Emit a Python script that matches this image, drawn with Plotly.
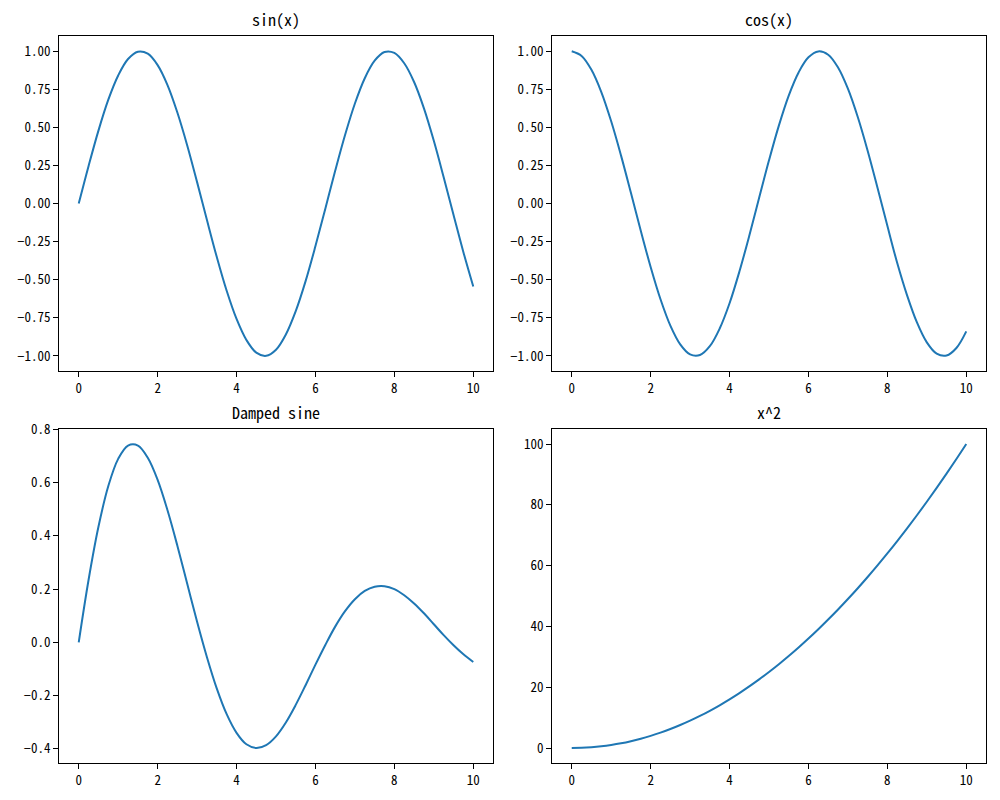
import plotly.graph_objects as go

x = [0.0, 0.25, 0.5, 0.75, 1.0, 1.25, 1.5, 1.75, 2.0, 2.25, 2.5, 2.75, 3.0, 3.25, 3.5, 3.75,
     4.0, 4.25, 4.5, 4.75, 5.0, 5.25, 5.5, 5.75, 6.0, 6.25, 6.5, 6.75, 7.0, 7.25, 7.5, 7.75,
     8.0, 8.25, 8.5, 8.75, 9.0, 9.25, 9.5, 9.75, 10.0]

sin_vals = [0.000, 0.247, 0.479, 0.682, 0.841, 0.949, 0.997, 0.984, 0.909, 0.778, 0.598, 0.382,
            0.141, -0.108, -0.351, -0.572, -0.757, -0.895, -0.978, -0.999, -0.959, -0.859,
            -0.706, -0.509, -0.279, -0.033, 0.215, 0.450, 0.657, 0.823, 0.938, 0.995, 0.989,
            0.921, 0.798, 0.625, 0.412, 0.173, -0.075, -0.319, -0.544]

cos_vals = [1.000, 0.969, 0.878, 0.732, 0.540, 0.315, 0.071, -0.178, -0.416, -0.628, -0.801,
            -0.924, -0.990, -0.994, -0.936, -0.820, -0.654, -0.446, -0.211, 0.038, 0.284, 0.512,
            0.709, 0.861, 0.960, 0.999, 0.977, 0.893, 0.754, 0.568, 0.347, 0.104, -0.146,
            -0.390, -0.602, -0.780, -0.911, -0.985, -0.997, -0.948, -0.839]

damped_vals = [0.000, 0.235, 0.434, 0.587, 0.689, 0.739, 0.739, 0.693, 0.610, 0.496, 0.363,
               0.220, 0.077, -0.056, -0.174, -0.270, -0.340, -0.383, -0.397, -0.386, -0.353,
               -0.301, -0.235, -0.161, -0.084, -0.010, 0.059, 0.117, 0.162, 0.193, 0.209, 0.211,
               0.200, 0.177, 0.146, 0.109, 0.068, 0.027, -0.011, -0.045, -0.074]

square_vals = [0.00, 0.06, 0.25, 0.56, 1.00, 1.56, 2.25, 3.06, 4.00, 5.06, 6.25, 7.56, 9.00,
               10.56, 12.25, 14.06, 16.00, 18.06, 20.25, 22.56, 25.00, 27.56, 30.25, 33.06,
               36.00, 39.06, 42.25, 45.56, 49.00, 52.56, 56.25, 60.06, 64.00, 68.06, 72.25,
               76.56, 81.00, 85.56, 90.25, 95.06, 100.00]

titles = ["sin(x)", "cos(x)", "Damped sine", "x^2"]
series = [sin_vals, cos_vals, damped_vals, square_vals]
x_ticks = [0, 2, 4, 6, 8, 10]

FONT = "Noto Sans Mono CJK SC, Noto Sans CJK SC, DejaVu Sans Mono, monospace"
COLOR = "#1f77b4"

xdoms = [[0.059, 0.493], [0.552, 0.986], [0.059, 0.493], [0.552, 0.986]]
ydoms = [[0.536, 0.955], [0.536, 0.955], [0.046, 0.464], [0.046, 0.464]]
yranges = [[-1.1, 1.1], [-1.1, 1.1], [-0.454, 0.802], [-5, 105]]
ytickvals = [
    [-1.0, -0.75, -0.5, -0.25, 0.0, 0.25, 0.5, 0.75, 1.0],
    [-1.0, -0.75, -0.5, -0.25, 0.0, 0.25, 0.5, 0.75, 1.0],
    [-0.4, -0.2, 0.0, 0.2, 0.4, 0.6, 0.8],
    [0, 20, 40, 60, 80, 100],
]
yformats = [".2f", ".2f", ".1f", "d"]

fig = go.Figure()
layout = dict(
    width=1000, height=800,
    margin=dict(l=0, r=0, t=0, b=0),
    paper_bgcolor="white", plot_bgcolor="white",
    showlegend=False,
    font=dict(family=FONT, size=13, color="black"),
    annotations=[],
)

for i in range(4):
    n = "" if i == 0 else str(i + 1)
    fig.add_trace(go.Scatter(x=x, y=series[i], mode="lines",
                             line=dict(color=COLOR, width=2, shape="spline", smoothing=1.0),
                             xaxis="x" + n, yaxis="y" + n, hoverinfo="skip"))
    axcommon = dict(showgrid=False, zeroline=False, showline=True, linecolor="black",
                    linewidth=1, mirror=True, ticks="outside", ticklen=5, tickwidth=1,
                    tickcolor="black", automargin=False,
                    tickfont=dict(family=FONT, size=13, color="black"))
    layout["xaxis" + n] = dict(axcommon, domain=xdoms[i], range=[-0.5, 10.5],
                               tickvals=x_ticks, anchor="y" + n)
    layout["yaxis" + n] = dict(axcommon, domain=ydoms[i], range=yranges[i],
                               tickvals=ytickvals[i], tickformat=yformats[i], anchor="x" + n)
    layout["annotations"].append(dict(
        text=titles[i], x=(xdoms[i][0] + xdoms[i][1]) / 2, y=ydoms[i][1],
        xref="paper", yref="paper", xanchor="center", yanchor="bottom",
        yshift=3, showarrow=False, font=dict(family=FONT, size=16, color="black")))

fig.update_layout(**layout)
fig.write_html("out.html")
